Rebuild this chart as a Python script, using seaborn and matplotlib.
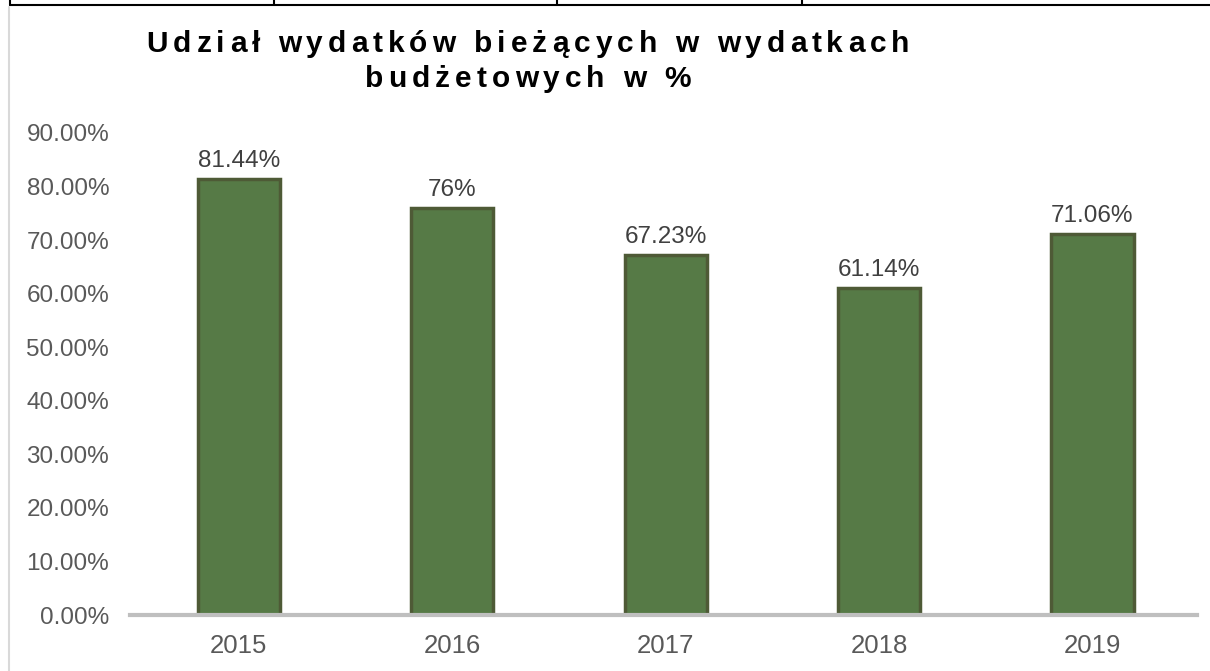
import numpy as np
import pandas as pd
import matplotlib
matplotlib.use("Agg")
import matplotlib.pyplot as plt
from matplotlib.lines import Line2D
import seaborn as sns

years = ["2015", "2016", "2017", "2018", "2019"]
shares = [0.8144, 0.76, 0.6723, 0.6114, 0.7106]
value_labels = ["81.44%", "76%", "67.23%", "61.14%", "71.06%"]
y_ticks = [0.0, 0.1, 0.2, 0.3, 0.4, 0.5, 0.6, 0.7, 0.8, 0.9]
title_lines = ["Udział wydatków bieżących w wydatkach", "budżetowych w %"]

W, H = 1210, 671

sns.set_style("white")
plt.rcParams["font.family"] = ["Liberation Sans", "DejaVu Sans"]

fig = plt.figure(figsize=(W / 100, H / 100), dpi=100)
ax = fig.add_axes([130 / W, 1 - 615 / H, (1197 - 130) / W, (615 - 133) / H])

df = pd.DataFrame({"year": years, "share": shares})
sns.barplot(data=df, x="year", y="share", color="#567A46", width=0.385,
            saturation=1, edgecolor="#4E5A36", linewidth=2.5, ax=ax)

ax.set_xlim(-0.51, 4.49)
ax.set_ylim(0, 0.9)
ax.set_yticks(y_ticks)
ax.set_yticklabels([f"{v * 100:.2f}%" for v in y_ticks])
ax.set_xlabel("")
ax.set_ylabel("")
ax.tick_params(axis="y", length=0, pad=15, labelsize=17.5, labelcolor="#595959")
ax.tick_params(axis="x", length=0, pad=14, labelsize=18.5, labelcolor="#595959")
for s in ["top", "right", "left"]:
    ax.spines[s].set_visible(False)
ax.spines["bottom"].set_color("#BFBFBF")
ax.spines["bottom"].set_linewidth(3)
ax.grid(False)

ax.bar_label(ax.containers[0], labels=value_labels, padding=5,
             fontsize=17.5, color="#404040")

# title, spaced out letter by letter, both lines centred on the same x
renderer = fig.canvas.get_renderer()


def text_width(s, **kw):
    if not s:
        return 0.0
    t = fig.text(0, 0, s, **kw)
    w = t.get_window_extent(renderer).width
    t.remove()
    return w


tkw = dict(fontsize=21.5, fontweight="bold", color="black")
cx = 528
line1_w = 763
sp = (line1_w - text_width(title_lines[0], **tkw)) / (len(title_lines[0]) - 1)
for line, yb in [(title_lines[0], 52), (title_lines[1], 87)]:
    total = text_width(line, **tkw) + sp * (len(line) - 1)
    x0 = cx - total / 2
    for i, ch in enumerate(line):
        xi = x0 + text_width(line[:i], **tkw) + i * sp
        fig.text(xi / W, 1 - yb / H, ch, va="baseline", ha="left", **tkw)


# frame and table lines around the chart
def px_line(x0, y0, x1, y1, color, lw):
    fig.add_artist(Line2D([x0 / W, x1 / W], [1 - y0 / H, 1 - y1 / H],
                          transform=fig.transFigure, color=color, linewidth=lw))


px_line(10, 5, 1210, 5, "black", 1.5)
for xv in [10, 274, 557, 802]:
    px_line(xv, 0, xv, 5, "black", 1.5)
px_line(8.5, 7, 8.5, 671, "#D9D9D9", 1.5)

fig.savefig("out.png", dpi=100)
